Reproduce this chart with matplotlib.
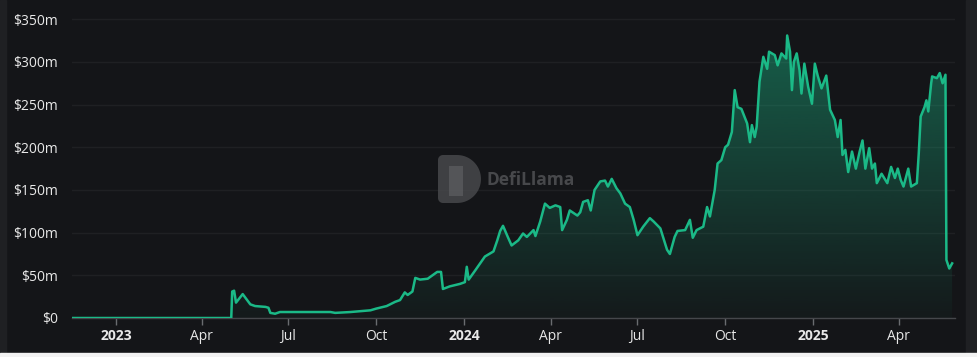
import numpy as np
import matplotlib.pyplot as plt
import matplotlib.dates as mdates
from matplotlib.patches import Rectangle, Polygon

# days since 2023-01-01 and TVL in $m
days = [-45, 121, 122, 124, 126, 133, 141, 146, 157, 160, 162, 167, 172, 193, 225,
        230, 246, 256, 267, 273, 284, 293, 298, 303, 306, 311, 314, 319, 327, 337,
        341, 343, 350, 361, 366, 368, 370, 377, 387, 396, 400, 403, 406, 411, 415,
        422, 427, 431, 438, 440, 445, 450, 455, 461, 466, 468, 473, 476, 484, 487,
        490, 495, 498, 502, 508, 513, 516, 520, 525, 529, 534, 539, 543, 547, 553,
        560, 564, 571, 578, 581, 586, 589, 597, 602, 605, 609, 616, 620, 623, 628,
        631, 635, 639, 642, 646, 649, 652, 656, 662, 665, 667, 670, 672, 675, 679,
        683, 685, 691, 694, 698, 703, 704, 707, 709, 711, 714, 717, 719, 722, 726,
        730, 733, 736, 740, 745, 749, 754, 757, 760, 762, 765, 768, 772, 776, 780,
        783, 786, 790, 793, 796, 798, 803, 809, 813, 817, 820, 823, 826, 831, 834,
        840, 842, 844, 848, 850, 852, 855, 856, 861, 864, 867, 870, 871, 874, 877]
tvl = [0, 0, 31, 32, 18, 28, 16, 14, 13, 12, 6, 5, 7, 7, 7,
       6, 7, 8, 9, 11, 14, 19, 21, 30, 27, 31, 47, 45, 46, 54,
       54, 34, 37, 40, 42, 60, 45, 56, 72, 78, 91, 102, 108, 95, 85,
       91, 99, 95, 103, 96, 113, 134, 129, 132, 130, 103, 115, 126, 120, 124,
       136, 138, 126, 150, 160, 161, 154, 163, 152, 146, 134, 130, 115, 97, 107,
       117, 113, 105, 80, 75, 95, 102, 103, 115, 94, 103, 107, 130, 119, 150,
       181, 185, 200, 203, 218, 267, 247, 245, 228, 206, 226, 212, 224, 277, 306,
       292, 312, 308, 296, 310, 304, 331, 312, 267, 300, 310, 290, 263, 298, 271,
       251, 298, 284, 269, 284, 244, 232, 212, 232, 191, 197, 171, 195, 175, 195,
       208, 175, 199, 175, 181, 158, 169, 158, 177, 164, 175, 162, 154, 175, 154,
       158, 193, 236, 247, 255, 242, 275, 283, 281, 287, 275, 285, 68, 58, 64]

tick_dates = ["2023-01-01", "2023-04-01", "2023-07-01", "2023-10-01", "2024-01-01",
              "2024-04-01", "2024-07-01", "2024-10-01", "2025-01-01", "2025-04-01"]
tick_labels = ["2023", "Apr", "Jul", "Oct", "2024", "Apr", "Jul", "Oct", "2025", "Apr"]
y_ticks = [0, 50, 100, 150, 200, 250, 300, 350]
y_labels = ["$0", "$50m", "$100m", "$150m", "$200m", "$250m", "$300m", "$350m"]

bg = "#141518"
green = "#1bb987"
W, H = 977, 357

plt.rcParams['font.family'] = ['Open Sans', 'DejaVu Sans']

dates = np.datetime64("2023-01-01") + np.array(days).astype("timedelta64[D]")
xn = mdates.date2num(dates)
vals = np.array(tvl, dtype=float)
xmin = mdates.date2num(np.datetime64("2022-11-16"))
xmax = mdates.date2num(np.datetime64("2025-05-30"))

fig = plt.figure(figsize=(W / 100, H / 100), dpi=100, facecolor=bg)
# screenshot frame strips
fig.patches.append(Rectangle((0, 0), 6 / W, 1, transform=fig.transFigure, color="#1f2023", zorder=0))
fig.patches.append(Rectangle((966 / W, 0), 11 / W, 1, transform=fig.transFigure, color="#1f2023", zorder=0))
fig.patches.append(Rectangle((0, 0), 1, 4 / H, transform=fig.transFigure, color="#f2f2f2", zorder=0))

ax = fig.add_axes([72 / W, 39 / H, 883 / W, 303 / H])
ax.set_facecolor(bg)

# gradient fill under the line
poly = ax.fill_between(xn, vals, 0, color="none", lw=0)
grad = np.linspace(0, 1, 256).reshape(-1, 1)
rgba = np.zeros((256, 1, 4))
rgba[..., 0] = 0x1b / 255
rgba[..., 1] = 0xb9 / 255
rgba[..., 2] = 0x87 / 255
rgba[..., 3] = 0.03 + 0.42 * grad
im = ax.imshow(rgba, aspect="auto", origin="lower",
               extent=[xn[0], xn[-1], 0, max(tvl)], zorder=1)
im.set_clip_path(poly.get_paths()[0], transform=ax.transData)

ax.plot(xn, vals, color=green, lw=1.8, zorder=3, solid_joinstyle="round")

ax.set_xlim(xmin, xmax)
ax.set_ylim(0, 355)

# axes styling
for s in ["top", "right", "left"]:
    ax.spines[s].set_visible(False)
ax.spines["bottom"].set_color("#45474b")
ax.spines["bottom"].set_linewidth(1)
ax.set_yticks(y_ticks)
ax.set_yticklabels(y_labels)
ax.tick_params(axis="y", length=0, pad=10, labelsize=10, labelcolor="#e8e8e8")
ax.grid(axis="y", color="#1f2023", lw=1)
ax.set_axisbelow(True)

ax.set_xticks(mdates.date2num(np.array(tick_dates, dtype="datetime64[D]")))
ax.set_xticklabels(tick_labels)
ax.tick_params(axis="x", length=5, width=1, color="#6a6c70", pad=3, labelsize=10, labelcolor="#e8e8e8")
for lab in ax.get_xticklabels():
    if lab.get_text().isdigit():
        lab.set_fontweight("bold")

# watermark: "D" shaped logo + name
wm = "#4a4b4e"
x0, x1, y0, y1, r = 438, 481, 155, 203, 5
cx, cy, R = x1 - (y1 - y0) / 2, (y0 + y1) / 2, (y1 - y0) / 2
pts = []
t = np.linspace(-np.pi / 2, np.pi / 2, 40)
pts += list(zip(cx + R * np.cos(t), cy + R * np.sin(t)))          # right half circle
t = np.linspace(np.pi / 2, np.pi, 10)
pts += list(zip(x0 + r + r * np.cos(t), y1 - r + r * np.sin(t)))   # bottom-left corner
t = np.linspace(np.pi, 1.5 * np.pi, 10)
pts += list(zip(x0 + r + r * np.cos(t), y0 + r + r * np.sin(t)))   # top-left corner
pts = [(px / W, 1 - py / H) for px, py in pts]
fig.patches.append(Polygon(pts, closed=True, transform=fig.transFigure,
                           fc=wm, ec="none", alpha=0.8, zorder=2))
# llama head hint
fig.patches.append(Rectangle((449 / W, 1 - 196 / H), 14 / W, 30 / H, transform=fig.transFigure,
                             fc="#5e5f62", ec="none", alpha=0.7, zorder=2))
fig.text(487 / W, 1 - 180 / H, "DefiLlama", color=wm, fontsize=12.5, fontweight="bold",
         va="center", ha="left", alpha=0.95)

fig.savefig("out.png", dpi=100, facecolor=bg)
